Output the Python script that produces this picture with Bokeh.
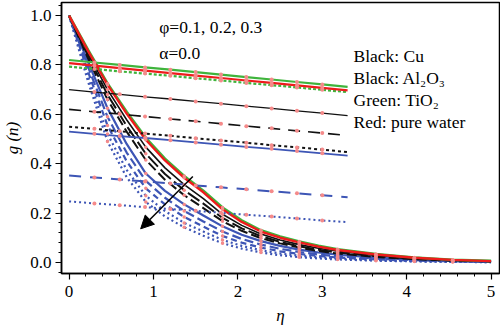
from bokeh.plotting import figure
from bokeh.models import (Range1d, SingleIntervalTicker, NumeralTickFormatter,
                          Label, Arrow, NormalHead)
from bokeh.embed import file_html
from bokeh.resources import INLINE

# ---- data -------------------------------------------------------------
eta_decay = [0, 0.227, 0.455, 0.682, 0.909, 1.136, 1.364, 1.591, 1.818, 2.045,
             2.273, 2.5, 2.727, 2.955, 3.182, 3.636, 4.091, 4.545, 5.0]
decay_marker_idx = [2, 4, 6, 8, 10, 12, 14, 15, 16, 17]

g_green = [1.0, 0.86, 0.725, 0.61, 0.505, 0.42, 0.35, 0.29, 0.222, 0.170, 0.13, 0.105, 0.085, 0.067, 0.053, 0.034, 0.02, 0.011, 0.006]
g_red = [1.0, 0.855, 0.72, 0.603, 0.497, 0.413, 0.343, 0.284, 0.215, 0.164, 0.125, 0.10, 0.081, 0.064, 0.050, 0.032, 0.019, 0.010, 0.005]
g_black_solid = [1.0, 0.845, 0.70, 0.578, 0.467, 0.383, 0.315, 0.258, 0.195, 0.150, 0.115, 0.091, 0.072, 0.057, 0.045, 0.028, 0.017, 0.009, 0.005]
g_black_dash1 = [1.0, 0.835, 0.68, 0.553, 0.44, 0.358, 0.292, 0.238, 0.18, 0.138, 0.106, 0.083, 0.065, 0.051, 0.040, 0.025, 0.015, 0.008, 0.004]
g_black_dash2 = [1.0, 0.825, 0.66, 0.53, 0.415, 0.335, 0.272, 0.22, 0.167, 0.128, 0.098, 0.077, 0.06, 0.046, 0.036, 0.022, 0.013, 0.007, 0.004]
g_blue_solid = [1.0, 0.81, 0.625, 0.48, 0.36, 0.29, 0.235, 0.19, 0.146, 0.112, 0.086, 0.067, 0.052, 0.040, 0.031, 0.019, 0.011, 0.006, 0.003]
g_blue_dash1 = [1.0, 0.79, 0.59, 0.445, 0.33, 0.262, 0.208, 0.166, 0.125, 0.095, 0.072, 0.055, 0.042, 0.032, 0.025, 0.015, 0.009, 0.005, 0.002]
g_blue_dash2 = [1.0, 0.77, 0.555, 0.41, 0.30, 0.235, 0.184, 0.145, 0.107, 0.080, 0.06, 0.045, 0.034, 0.026, 0.02, 0.012, 0.007, 0.004, 0.002]
g_blue_dot1 = [1.0, 0.75, 0.52, 0.375, 0.27, 0.208, 0.16, 0.125, 0.091, 0.067, 0.049, 0.036, 0.027, 0.021, 0.016, 0.009, 0.005, 0.003, 0.001]
g_blue_dot2 = [1.0, 0.73, 0.49, 0.345, 0.245, 0.186, 0.142, 0.108, 0.078, 0.056, 0.04, 0.029, 0.021, 0.016, 0.012, 0.007, 0.004, 0.002, 0.001]

eta_flat = [0, 0.3, 0.6, 0.9, 1.2, 1.5, 1.8, 2.1, 2.4, 2.7, 3.0, 3.3]
flat_marker_idx = [1, 2, 3, 4, 5, 6, 7, 8, 9, 10]

f_green_solid = [0.82, 0.81, 0.80, 0.79, 0.781, 0.771, 0.761, 0.751, 0.741, 0.731, 0.721, 0.711]
f_red_solid = [0.807, 0.797, 0.787, 0.777, 0.767, 0.757, 0.747, 0.737, 0.727, 0.717, 0.707, 0.697]
f_green_dot = [0.793, 0.784, 0.774, 0.765, 0.756, 0.746, 0.737, 0.727, 0.718, 0.709, 0.699, 0.69]
f_black_solid = [0.70, 0.69, 0.681, 0.671, 0.662, 0.652, 0.643, 0.633, 0.624, 0.614, 0.605, 0.595]
f_black_dash = [0.62, 0.61, 0.601, 0.591, 0.581, 0.572, 0.562, 0.552, 0.543, 0.533, 0.524, 0.514]
f_black_dot = [0.55, 0.541, 0.531, 0.522, 0.513, 0.503, 0.494, 0.485, 0.475, 0.466, 0.457, 0.447]
f_blue_solid = [0.53, 0.521, 0.512, 0.504, 0.495, 0.486, 0.477, 0.468, 0.46, 0.451, 0.442, 0.433]
f_blue_longdash = [0.352, 0.344, 0.336, 0.328, 0.32, 0.312, 0.304, 0.296, 0.288, 0.28, 0.272, 0.264]
f_blue_dot = [0.247, 0.239, 0.232, 0.224, 0.216, 0.209, 0.201, 0.193, 0.186, 0.178, 0.17, 0.163]

x_ticks_interval = 1
y_ticks_interval = 0.2

arrow_start = (1.466, 0.348)
arrow_end = (0.848, 0.136)

title_lines = ["φ=0.1, 0.2, 0.3", "α=0.0"]
title_pos = [(1.068, 0.955), (1.068, 0.848)]
legend_lines = ["Black: Cu", "Black: Al₂O₃", "Green: TiO₂", "Red: pure water"]
legend_pos = [(3.37, 0.838), (3.37, 0.749), (3.37, 0.656), (3.37, 0.567)]

# ---- styles -----------------------------------------------------------
GREEN = "#3fb43c"
RED = "#ee1c1c"
BLACK = "#111111"
BLUE = "#3d55b5"
PINK = "#f58a8a"
FONT = "Liberation Serif"

p = figure(width=500, height=328, output_backend="svg", toolbar_location=None,
           x_range=Range1d(-0.09, 5.1), y_range=Range1d(-0.045, 1.053),
           min_border_left=59, min_border_right=1, min_border_top=2,
           min_border_bottom=55)
p.xgrid.visible = False
p.ygrid.visible = False
p.outline_line_color = "black"
p.outline_line_width = 1.5
p.background_fill_color = "white"
p.border_fill_color = "white"

p.xaxis.ticker = SingleIntervalTicker(interval=x_ticks_interval, num_minor_ticks=5)
p.yaxis.ticker = SingleIntervalTicker(interval=y_ticks_interval, num_minor_ticks=5)
p.yaxis.formatter = NumeralTickFormatter(format="0.0")
for ax in (p.xaxis[0], p.yaxis[0]):
    ax.axis_line_width = 1.5
    ax.axis_line_color = "black"
    ax.major_tick_line_color = "black"
    ax.minor_tick_line_color = "black"
    ax.major_tick_line_width = 1.2
    ax.minor_tick_line_width = 1
    ax.major_tick_out = 6
    ax.major_tick_in = 0
    ax.minor_tick_out = 3
    ax.minor_tick_in = 0
    ax.major_label_text_font = FONT
    ax.major_label_text_font_size = "17px"
    ax.major_label_text_color = "black"
    ax.axis_label_text_font = FONT
    ax.axis_label_text_font_size = "17px"
    ax.axis_label_text_font_style = "italic"
    ax.axis_label_text_color = "black"
p.xaxis.axis_label = "η"
p.yaxis.axis_label = "g (n)"
p.xaxis.major_label_standoff = 6
p.xaxis.axis_label_standoff = 6
p.yaxis.major_label_standoff = 4
p.yaxis.axis_label_standoff = 5

decay = [
    (g_blue_dot2, BLUE, "2 3", 2.2),
    (g_blue_dot1, BLUE, "2 3", 2.2),
    (g_blue_dash2, BLUE, "6 4", 2.2),
    (g_blue_dash1, BLUE, "9 4", 2.2),
    (g_blue_solid, BLUE, "solid", 2.2),
    (g_black_dash2, BLACK, "10 4", 2),
    (g_black_dash1, BLACK, "14 4", 2),
    (g_black_solid, BLACK, "solid", 1.6),
    (g_green, GREEN, "solid", 2.6),
    (g_red, RED, "solid", 2.4),
]
for ys, col, dash, w in decay:
    p.line(eta_decay, ys, line_color=col, line_width=w, line_dash=dash)

flat = [
    (f_blue_dot, BLUE, "2 3", 2),
    (f_blue_longdash, BLUE, "12 9", 2),
    (f_blue_solid, BLUE, "solid", 1.8),
    (f_black_dot, BLACK, "3 3", 2),
    (f_black_dash, BLACK, "12 8", 1.6),
    (f_black_solid, BLACK, "solid", 1.3),
    (f_green_dot, GREEN, "3 2", 2.2),
    (f_green_solid, GREEN, "solid", 2.2),
    (f_red_solid, RED, "solid", 2.2),
]
for ys, col, dash, w in flat:
    p.line(eta_flat, ys, line_color=col, line_width=w, line_dash=dash)

for ys, *_ in decay:
    p.scatter([eta_decay[i] for i in decay_marker_idx], [ys[i] for i in decay_marker_idx],
              size=3.5, fill_color=PINK, line_color=None)
for ys, *_ in flat:
    p.scatter([eta_flat[i] for i in flat_marker_idx], [ys[i] for i in flat_marker_idx],
              size=4, fill_color=PINK, line_color=None)

p.add_layout(Arrow(end=NormalHead(size=13, fill_color="black", line_color="black"),
                   x_start=arrow_start[0], y_start=arrow_start[1],
                   x_end=arrow_end[0], y_end=arrow_end[1],
                   line_color="black", line_width=1.5))

for txt, (x, y) in zip(title_lines + legend_lines, title_pos + legend_pos):
    p.add_layout(Label(x=x, y=y, text=txt, text_font=FONT, text_font_size="17.5px",
                       text_color="black", text_baseline="alphabetic"))

open("out.html", "w").write(file_html(p, INLINE))
